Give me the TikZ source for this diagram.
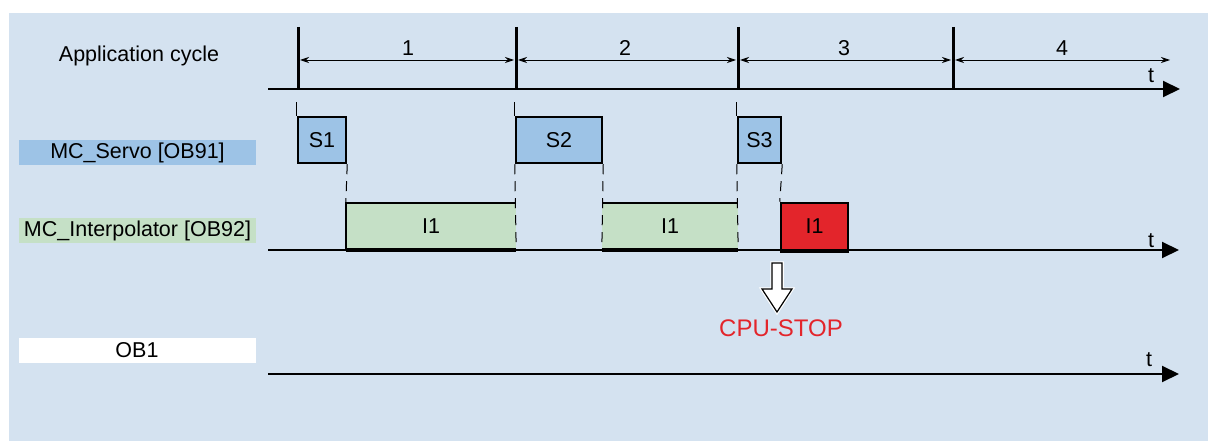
\documentclass[tikz,border=0pt]{standalone}
\usepackage{fontspec}
\setmainfont{Liberation Sans}
\usetikzlibrary{arrows.meta}
\definecolor{bg}{RGB}{212,226,240}
\definecolor{servo}{RGB}{157,195,230}
\definecolor{interp}{RGB}{197,224,198}
\definecolor{stopred}{RGB}{227,37,43}
\begin{document}
\begin{tikzpicture}[x=1pt,y=-1pt,
  font=\fontsize{21.5}{25}\selectfont,
  lbl/.style={minimum width=237pt, minimum height=25pt, inner sep=0pt},
  servobox/.style={draw, fill=servo, line width=2.5pt, minimum height=46pt, inner sep=0pt},
  interpbox/.style={fill=interp, minimum height=47pt, inner sep=0pt},
  stopbox/.style={draw, fill=stopred, line width=2.5pt, minimum height=47pt, inner sep=0pt},
  boxedge/.style={line width=2.5pt},
  boxbottom/.style={line width=3.5pt},
  axis/.style={line width=2pt, -{Triangle[length=17pt,width=16pt]}},
  tickline/.style={line width=3pt},
  dim/.style={line width=0.9pt, {Stealth[length=9pt,width=6pt]}-{Stealth[length=9pt,width=6pt]}},
  guide/.style={line width=0.6pt},
  dguide/.style={line width=1pt, dash pattern=on 10pt off 7pt},
  tlabel/.style={inner sep=0pt}
]
\useasboundingbox (0,0) rectangle (1208,441);
\fill[bg] (9,13) rectangle (1208,441);

% row labels
\node (appl) at (139,56) {Application cycle};
\node[lbl, fill=servo] (servolbl) at (137.5,153) {MC\_Servo [OB91]};
\node[lbl, fill=interp] (interplbl) at (137.5,230.5) {MC\_Interpolator [OB92]};
\node[lbl, fill=white] (ob1lbl) at (137,350) {OB1};

% application cycle axis
\coordinate (a0) at (268,89);
\coordinate (a1) at (1180,89);
\draw[axis] (a0) -- (a1);
\node[tlabel] (t1) at (1151,76) {t};

\coordinate (k1t) at (298,27); \coordinate (k1b) at (298,89);
\coordinate (k2t) at (516,27); \coordinate (k2b) at (516,89);
\coordinate (k3t) at (738,27); \coordinate (k3b) at (738,89);
\coordinate (k4t) at (953,27); \coordinate (k4b) at (953,89);
\draw[tickline] (k1t) -- (k1b);
\draw[tickline] (k2t) -- (k2b);
\draw[tickline] (k3t) -- (k3b);
\draw[tickline] (k4t) -- (k4b);

\coordinate (d1) at (300,60); \coordinate (d2) at (514,60);
\coordinate (d3) at (518,60); \coordinate (d4) at (736,60);
\coordinate (d5) at (740,60); \coordinate (d6) at (951,60);
\coordinate (d7) at (955,60); \coordinate (d8) at (1170,60);
\draw[dim] (d1) -- (d2);
\draw[dim] (d3) -- (d4);
\draw[dim] (d5) -- (d6);
\draw[dim] (d7) -- (d8);
\node (n1) at (408,48) {1};
\node (n2) at (625,48) {2};
\node (n3) at (844,48) {3};
\node (n4) at (1062,48) {4};

% interpolator axis
\coordinate (b0) at (268,250);
\coordinate (b1) at (1179,250);
\draw[axis] (b0) -- (b1);
\node[tlabel] (t2) at (1151,241) {t};

% OB1 axis
\coordinate (c0) at (268,374);
\coordinate (c1) at (1179,374);
\draw[axis] (c0) -- (c1);
\node[tlabel] (t3) at (1149,360) {t};

% interpolator boxes
\node[interpbox, minimum width=170pt] (i1a) at (431,226.5) {I1};
\node[interpbox, minimum width=136pt] (i1b) at (670,226.5) {I1};
\node[stopbox, minimum width=67pt] (i1c) at (814.5,226.5) {I1};
\draw[boxedge] (i1a.north east) -- (i1a.north west) -- (i1a.south west);
\draw[boxbottom] (i1a.south west) -- (i1a.south east);
\draw[boxedge] (i1b.north west) -- (i1b.north east);
\draw[boxbottom] (i1b.south west) -- (i1b.south east);
\draw[boxbottom] (i1c.south west) -- (i1c.south east);

% servo boxes
\node[servobox, minimum width=48pt] (s1) at (322,140) {S1};
\node[servobox, minimum width=86pt] (s2) at (559,140) {S2};
\node[servobox, minimum width=43pt] (s3) at (759.5,140) {S3};

% guide lines
\draw[guide] (s1.north west) -- ++(0,-14);
\draw[guide] (s2.north west) -- ++(0,-14);
\draw[guide] (s3.north west) -- ++(0,-14);
\draw[dguide] (s1.south east) -- (i1a.north west);
\draw[dguide] (s2.south west) -- (i1a.south east);
\draw[dguide] (s2.south east) -- (i1b.south west);
\draw[dguide] (s3.south west) -- (i1b.south east);
\draw[dguide] (s3.south east) -- (i1c.north west);

% CPU stop arrow
\coordinate (stop) at (777,263);
\draw[white, line width=3.5pt, line join=miter]
  (stop) ++(-5,0) -- ++(10,0) -- ++(0,26) -- ++(10,0) -- ++(-15,23) -- ++(-15,-23) -- ++(10,0) -- cycle;
\draw[fill=white, line width=1.2pt, line join=miter]
  (stop) ++(-5,0) -- ++(10,0) -- ++(0,26) -- ++(10,0) -- ++(-15,23) -- ++(-15,-23) -- ++(10,0) -- cycle;
\node[text=stopred, font=\fontsize{24}{28}\selectfont] (cpustop) at (781,328) {CPU-STOP};
\end{tikzpicture}
\end{document}
